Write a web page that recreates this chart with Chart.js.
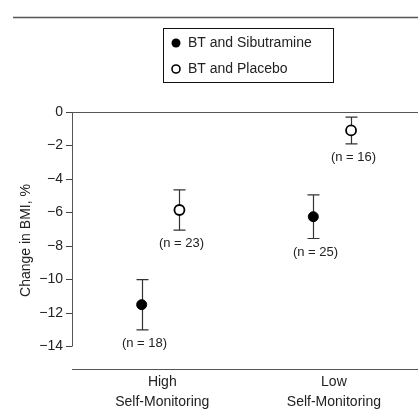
<!DOCTYPE html>
<html>
<head>
<meta charset="utf-8">
<script src="https://cdn.jsdelivr.net/npm/chart.js@4/dist/chart.umd.min.js"></script>
<style>
  html, body { margin: 0; padding: 0; background: #fff; }
  canvas { display: block; }
</style>
</head>
<body>
<canvas id="bmiChart" width="418" height="412"></canvas>
<script>
    'use strict';

    // values
    var categories = [['High', 'Self-Monitoring'], ['Low', 'Self-Monitoring']];
    var seriesNames = ['BT and Sibutramine', 'BT and Placebo'];
    var sibMean = [-11.5, -6.25];
    var sibErr = [1.5, 1.3];
    var sibN = [18, 25];
    var placMean = [-5.85, -1.1];
    var placErr = [1.2, 0.8];
    var placN = [23, 16];
    var yTicks = [0, -2, -4, -6, -8, -10, -12, -14];

    var SIB_OFFSET = -0.12;
    var PLAC_OFFSET = 0.1;
    var FONT = '"Liberation Sans", Arial, Helvetica, sans-serif';
    var INK = '#222';
    var LINE = '#555';

    function points(means, offset) {
        return means.map(function(m, i) {
            return { x: i + offset, y: m };
        });
    }

    function minus(v) {
        return v < 0 ? '\u2212' + Math.abs(v) : String(v);
    }

    var errorBars = {
        id: 'errorBars',
        beforeDatasetsDraw: function(chart) {
            var ctx = chart.ctx;
            var xs = chart.scales.x;
            var ys = chart.scales.y;
            var groups = [
                { mean: sibMean, err: sibErr, n: sibN, off: SIB_OFFSET },
                { mean: placMean, err: placErr, n: placN, off: PLAC_OFFSET }
            ];
            ctx.save();
            ctx.strokeStyle = '#333';
            ctx.lineWidth = 1.2;
            ctx.fillStyle = INK;
            ctx.font = '13px ' + FONT;
            ctx.textAlign = 'center';
            ctx.textBaseline = 'top';
            groups.forEach(function(g) {
                g.mean.forEach(function(m, i) {
                    var px = Math.round(xs.getPixelForValue(i + g.off)) + 0.5;
                    var top = ys.getPixelForValue(m + g.err[i]);
                    var bot = ys.getPixelForValue(m - g.err[i]);
                    ctx.beginPath();
                    ctx.moveTo(px, top);
                    ctx.lineTo(px, bot);
                    ctx.moveTo(px - 6, top);
                    ctx.lineTo(px + 6, top);
                    ctx.moveTo(px - 6, bot);
                    ctx.lineTo(px + 6, bot);
                    ctx.stroke();
                    ctx.fillText('(n = ' + g.n[i] + ')', px + 2, bot + 7);
                });
            });
            ctx.restore();
        },
        afterDraw: function(chart) {
            var ctx = chart.ctx;
            var xs = chart.scales.x;
            var ys = chart.scales.y;
            var area = chart.chartArea;
            var left = area.left + 0.5;
            ctx.save();
            // y axis line only from 0 to -14
            ctx.strokeStyle = LINE;
            ctx.lineWidth = 1;
            ctx.beginPath();
            ctx.moveTo(left, ys.getPixelForValue(yTicks[0]));
            ctx.lineTo(left, ys.getPixelForValue(yTicks[yTicks.length - 1]));
            ctx.stroke();

            // category labels under the x axis
            ctx.fillStyle = INK;
            ctx.font = '14px ' + FONT;
            ctx.textAlign = 'center';
            ctx.textBaseline = 'middle';
            categories.forEach(function(lines, i) {
                var px = xs.getPixelForValue(i);
                lines.forEach(function(txt, j) {
                    ctx.fillText(txt, px, area.bottom + 13 + j * 20);
                });
            });

            // rule across the top of the figure
            ctx.lineWidth = 1.3;
            ctx.beginPath();
            ctx.moveTo(13, 17.5);
            ctx.lineTo(418, 17.5);
            ctx.stroke();

            // boxed legend
            ctx.strokeStyle = '#111';
            ctx.lineWidth = 1;
            ctx.strokeRect(163.5, 28.5, 170, 54);
            ctx.textAlign = 'left';
            ctx.beginPath();
            ctx.arc(176, 43, 4.5, 0, Math.PI * 2);
            ctx.fillStyle = '#000';
            ctx.fill();
            ctx.fillStyle = INK;
            ctx.fillText(seriesNames[0], 188, 43);
            ctx.beginPath();
            ctx.arc(176, 69, 4, 0, Math.PI * 2);
            ctx.fillStyle = '#fff';
            ctx.fill();
            ctx.strokeStyle = '#000';
            ctx.lineWidth = 1.6;
            ctx.stroke();
            ctx.fillStyle = INK;
            ctx.fillText(seriesNames[1], 188, 69);
            ctx.restore();
        }
    };

    var CHART = document.getElementById('bmiChart');

    var bmiChart = new Chart(CHART, {
        type: 'scatter',
        data: {
            datasets: [{
                label: seriesNames[0],
                data: points(sibMean, SIB_OFFSET),
                pointRadius: 5,
                pointHoverRadius: 5,
                backgroundColor: '#000',
                borderColor: '#000',
                borderWidth: 1
            }, {
                label: seriesNames[1],
                data: points(placMean, PLAC_OFFSET),
                pointRadius: 5,
                pointHoverRadius: 5,
                backgroundColor: '#fff',
                borderColor: '#000',
                borderWidth: 1.8
            }]
        },
        options: {
            responsive: false,
            animation: false,
            devicePixelRatio: 1,
            layout: {
                autoPadding: false,
                padding: { top: 112, left: 0, right: 0, bottom: 0 }
            },
            plugins: {
                legend: { display: false },
                tooltip: { enabled: false }
            },
            scales: {
                x: {
                    type: 'linear',
                    min: -0.526,
                    max: 1.49,
                    afterBuildTicks: function(scale) {
                        scale.ticks = categories.map(function(c, i) { return { value: i }; });
                    },
                    afterFit: function(scale) { scale.height = 43; },
                    border: { display: true, color: LINE, width: 1 },
                    grid: { display: true, color: 'transparent', drawTicks: false },
                    ticks: { display: false }
                },
                y: {
                    min: -15.34,
                    max: 0,
                    afterBuildTicks: function(scale) {
                        scale.ticks = yTicks.map(function(v) { return { value: v }; });
                    },
                    afterFit: function(scale) { scale.width = 72; },
                    border: { display: false },
                    grid: {
                        drawOnChartArea: true,
                        color: function(ctx) {
                            return ctx.tick && ctx.tick.value === 0 ? LINE : 'transparent';
                        },
                        tickColor: '#444',
                        tickLength: 6,
                        lineWidth: 1
                    },
                    ticks: {
                        padding: 3,
                        color: INK,
                        font: { family: FONT, size: 14 },
                        callback: function(value) { return minus(value); }
                    },
                    title: {
                        display: true,
                        text: 'Change in BMI, %',
                        color: INK,
                        font: { family: FONT, size: 14 },
                        padding: { top: 18, bottom: 0 }
                    }
                }
            }
        },
        plugins: [errorBars]
    });
</script>
</body>
</html>
